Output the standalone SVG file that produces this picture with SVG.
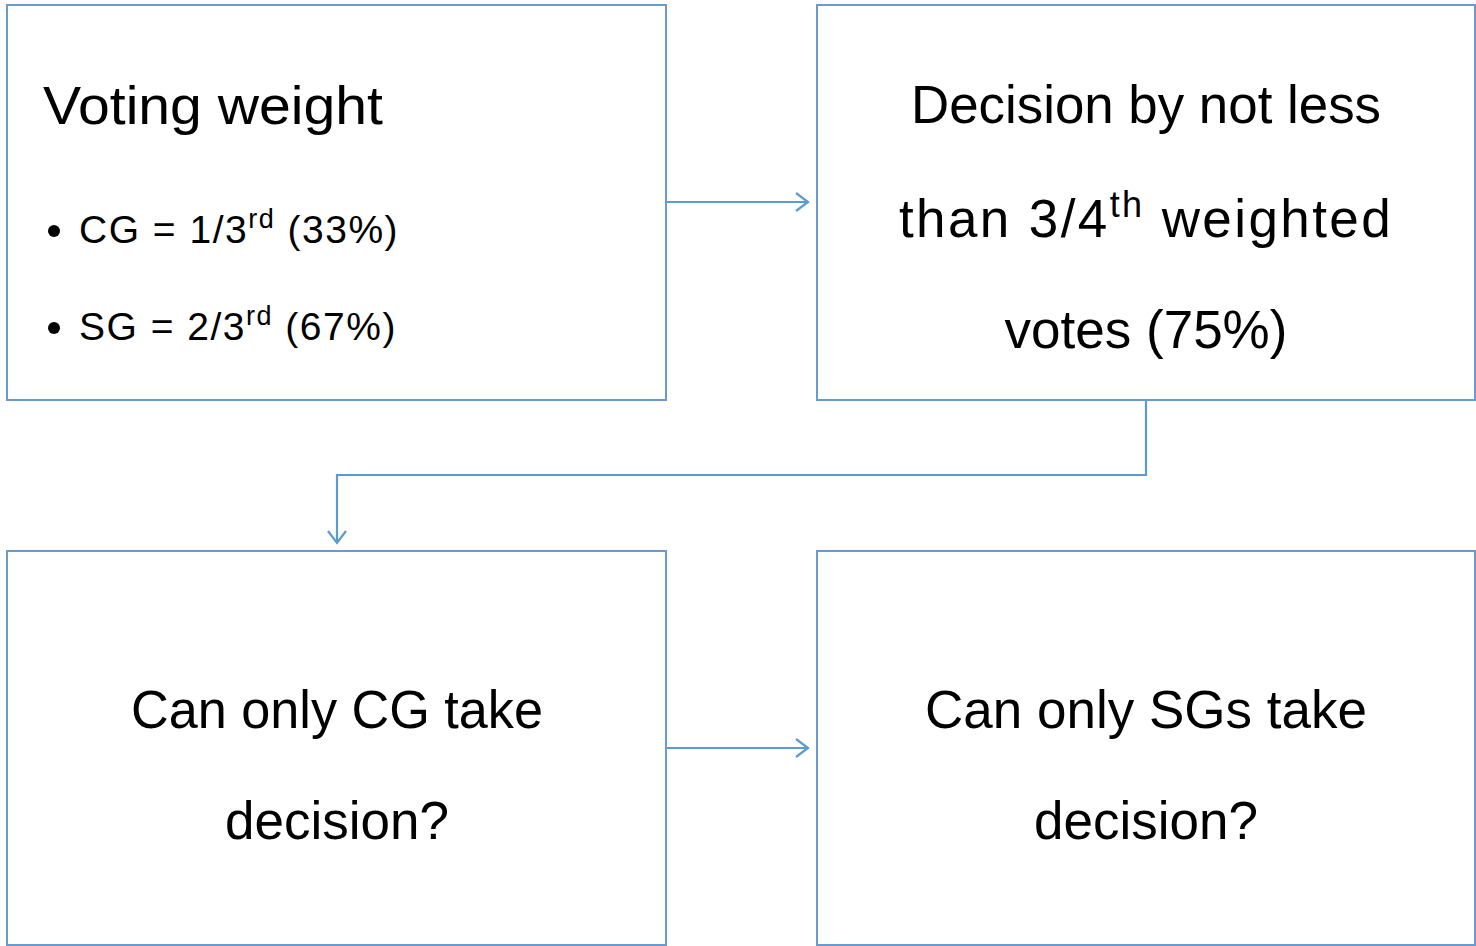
<svg xmlns="http://www.w3.org/2000/svg" width="1476" height="946" viewBox="0 0 1476 946">
<style>
.box{fill:#fff;stroke:#6a9bd0;stroke-width:2}
.t{font-family:"Liberation Sans",Arial,sans-serif;fill:#000}
.big{font-size:53px}
.mid{font-size:39px;letter-spacing:1.5px}
.c{text-anchor:middle}
.con{fill:none;stroke:#5b9bd5;stroke-width:2.2}
</style>
<defs>
<marker id="arr" viewBox="0 0 20 24" refX="18" refY="12" markerWidth="20" markerHeight="24" markerUnits="userSpaceOnUse" orient="auto">
<path d="M6,3 L18,12 L6,21" fill="none" stroke="#5b9bd5" stroke-width="2.2"/>
</marker>
</defs>
<rect width="1476" height="946" fill="#fff"/>
<g id="connectors">
<path class="con" d="M666,202 H808" marker-end="url(#arr)"/>
<path class="con" d="M1146,400 V475 H337 V543" marker-end="url(#arr)"/>
<path class="con" d="M666,748 H808" marker-end="url(#arr)"/>
</g>
<g id="node-voting">
<rect class="box" x="7" y="5" width="659" height="395"/>
<text class="t big" x="43" y="124" textLength="340" lengthAdjust="spacingAndGlyphs">Voting weight</text>
<circle cx="54" cy="231" r="6"/>
<text class="t mid" x="79" y="243">CG = 1/3<tspan font-size="27" dy="-15">rd</tspan><tspan dy="15"> (33%)</tspan></text>
<circle cx="54" cy="328" r="6"/>
<text class="t mid" x="79" y="340">SG = 2/3<tspan font-size="27" dy="-15">rd</tspan><tspan dy="15"> (67%)</tspan></text>
</g>
<g id="node-decision">
<rect class="box" x="817" y="5" width="658" height="395"/>
<text class="t big c" x="1146" y="123" textLength="470" lengthAdjust="spacingAndGlyphs">Decision by not less</text>
<text class="t big c" x="1146" y="237" letter-spacing="2.4">than 3/4<tspan font-size="36" dy="-20">th</tspan><tspan dy="20"> weighted</tspan></text>
<text class="t big c" x="1146" y="348">votes (75%)</text>
</g>
<g id="node-cg">
<rect class="box" x="7" y="551" width="659" height="394"/>
<text class="t big c" x="337" y="728" textLength="412" lengthAdjust="spacingAndGlyphs">Can only CG take</text>
<text class="t big c" x="337" y="839">decision?</text>
</g>
<g id="node-sg">
<rect class="box" x="817" y="551" width="658" height="394"/>
<text class="t big c" x="1146" y="728">Can only SGs take</text>
<text class="t big c" x="1146" y="839">decision?</text>
</g>
</svg>
